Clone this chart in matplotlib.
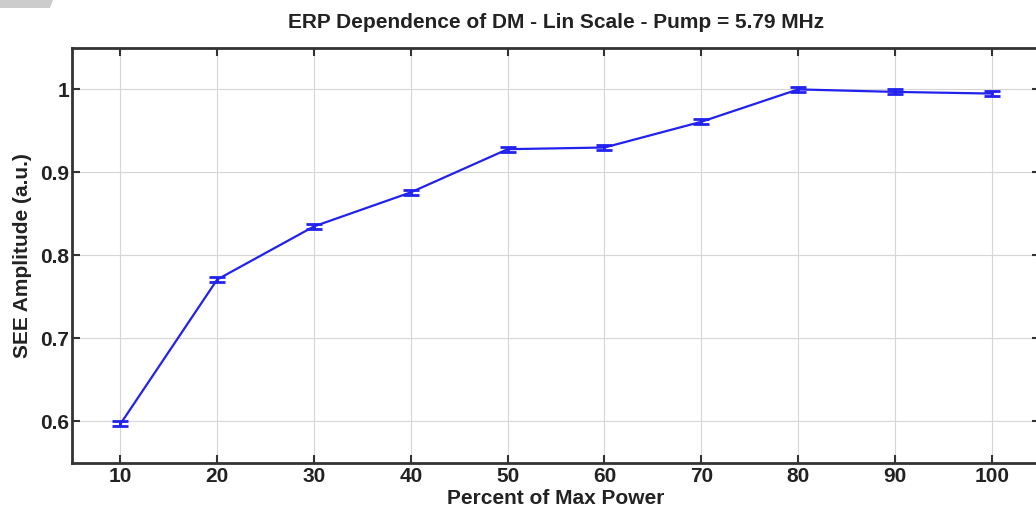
import matplotlib.pyplot as plt
from matplotlib.patches import Polygon

### ERP dependence of DM amplitude, linear scale
power = [10, 20, 30, 40, 50, 60, 70, 80, 90, 100]
amplitude = [0.597, 0.771, 0.835, 0.876, 0.928, 0.930, 0.961, 1.000, 0.997, 0.995]
errors = [0.003, 0.003, 0.003, 0.003, 0.003, 0.003, 0.003, 0.003, 0.003, 0.003]

plt.rcParams['font.family'] = ['Liberation Sans', 'DejaVu Sans']
plt.rcParams['font.weight'] = 'bold'

fig = plt.figure(figsize=(10.36, 5.15), dpi=100)
ax = fig.add_axes([0.0695, 0.101, 0.9345, 0.806])

ax.errorbar(power, amplitude, yerr=errors, color='#2222ee', lw=1.6,
            capsize=6, capthick=2, elinewidth=2)

ax.set_xlim(5, 105)
ax.set_ylim(0.55, 1.05)
ax.set_xticks(power)
ax.set_yticks([0.6, 0.7, 0.8, 0.9, 1.0])
ax.set_yticklabels(['0.6', '0.7', '0.8', '0.9', '1'])
ax.grid(True, color='#d6d6d6', lw=0.8)
ax.tick_params(direction='in', top=True, right=True, length=6, width=1.5,
               labelsize=15, pad=2, color='#333333', labelcolor='#222222')
ax.tick_params(axis='x', pad=3)
for s in ax.spines.values():
    s.set_linewidth(2)
    s.set_color('#333333')

ax.set_title('ERP Dependence of DM - Lin Scale - Pump = 5.79 MHz',
             fontsize=15, fontweight='bold', pad=14, color='#222222')
ax.set_xlabel('Percent of Max Power', fontsize=15, fontweight='bold',
              labelpad=2, color='#222222')
ax.set_ylabel('SEE Amplitude (a.u.)', fontsize=15, fontweight='bold',
              labelpad=6, color='#222222')

# grey corner artifact
fig.patches.append(Polygon([[0, 1], [53/1036, 1], [50/1036, 1 - 8/515], [0, 1 - 8/515]],
                           closed=True, transform=fig.transFigure,
                           facecolor='#cccccc', edgecolor='none'))

plt.savefig('out.png', dpi=100)
